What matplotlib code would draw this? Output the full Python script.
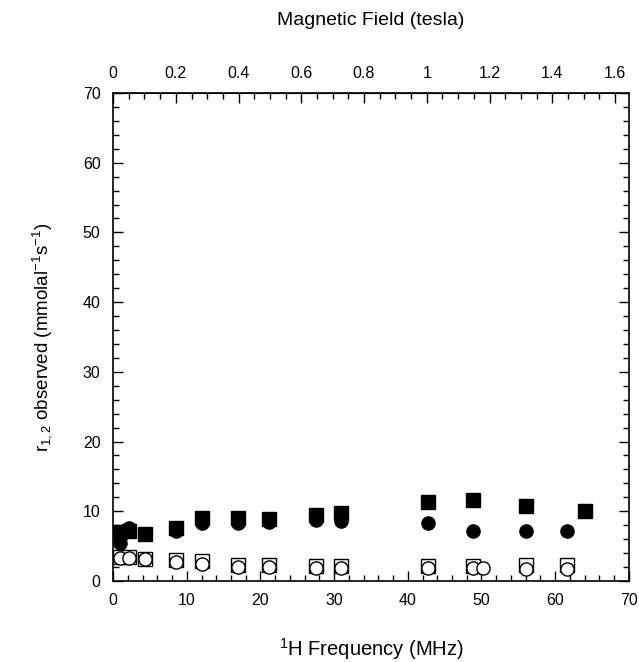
import numpy as np
import matplotlib
matplotlib.use("Agg")
import matplotlib.pyplot as plt
from matplotlib.ticker import MultipleLocator, FixedLocator

plt.rcParams['font.family'] = ['Liberation Sans', 'DejaVu Sans']
plt.rcParams['mathtext.fontset'] = 'custom'
plt.rcParams['mathtext.rm'] = 'Liberation Sans'
plt.rcParams['mathtext.it'] = 'Liberation Sans'

# 1H frequency (MHz) and relaxivities
freq_fs = [1.0, 2.2, 4.3, 8.6, 12.1, 17.0, 21.2, 27.5, 31.0, 42.7, 48.8, 56.1, 64.0]
r_fs = [7.0, 7.1, 6.7, 7.6, 9.1, 9.0, 8.9, 9.4, 9.7, 11.3, 11.6, 10.7, 10.0]

freq_fc = [1.0, 2.2, 8.6, 12.1, 17.0, 21.2, 27.5, 31.0, 42.7, 48.8, 56.1, 61.6]
r_fc = [5.5, 7.6, 7.1, 8.3, 8.3, 8.5, 8.7, 8.6, 8.3, 7.1, 7.1, 7.1]

freq_os = [1.0, 2.2, 4.3, 8.6, 12.1, 17.0, 21.2, 27.5, 31.0, 42.7, 48.8, 56.1, 61.6]
r_os = [3.5, 3.4, 3.2, 3.0, 2.8, 2.3, 2.3, 2.2, 2.2, 2.2, 2.2, 2.3, 2.3]

freq_oc = [1.0, 2.2, 4.3, 8.6, 12.1, 17.0, 21.2, 27.5, 31.0, 42.7, 48.8, 50.2, 56.1, 61.6]
r_oc = [3.3, 3.3, 3.1, 2.7, 2.5, 2.0, 2.0, 1.8, 1.8, 1.8, 1.8, 1.8, 1.7, 1.7]

field_ticks = [0, 0.2, 0.4, 0.6, 0.8, 1.0, 1.2, 1.4, 1.6]
field_labels = ['0', '0.2', '0.4', '0.6', '0.8', '1', '1.2', '1.4', '1.6']

GAMMA = 42.58  # MHz per tesla

fig = plt.figure(figsize=(6.39, 6.62), dpi=100)
ax = fig.add_axes([0.177, 0.1224, 0.807, 0.7371])

ax.plot(freq_oc, r_oc, 'o', ms=9.5, mfc='white', mec='black', mew=1.0, zorder=3)
ax.plot(freq_os, r_os, 's', ms=9.5, mfc='white', mec='black', mew=1.0, zorder=2)
ax.plot(freq_fc, r_fc, 'o', ms=9.5, mfc='black', mec='black', zorder=4)
ax.plot(freq_fs, r_fs, 's', ms=9.5, mfc='black', mec='black', zorder=4)

ax.set_xlim(0, 70)
ax.set_ylim(0, 70)
ax.xaxis.set_major_locator(MultipleLocator(10))
ax.xaxis.set_minor_locator(MultipleLocator(2))
ax.yaxis.set_major_locator(MultipleLocator(10))
ax.yaxis.set_minor_locator(MultipleLocator(2))
ax.tick_params(which='both', direction='in', right=True, top=False,
               labelsize=11.5, width=1)
ax.tick_params(which='major', length=7, pad=9)
ax.tick_params(which='minor', length=4)

for s in ax.spines.values():
    s.set_linewidth(1.2)

sec = ax.secondary_xaxis('top', functions=(lambda f: f / GAMMA, lambda b: b * GAMMA))
sec.set_xticks(field_ticks)
sec.set_xticklabels(field_labels)
sec.xaxis.set_minor_locator(FixedLocator(np.arange(0.05, 1.65, 0.05)))
sec.tick_params(which='both', direction='in', labelsize=11.5, width=1)
sec.tick_params(which='major', length=7, pad=9)
sec.tick_params(which='minor', length=4)
sec.set_xlabel('Magnetic Field (tesla)', fontsize=14, labelpad=29)

ax.set_xlabel(r'$^{1}$H Frequency (MHz)', fontsize=14.5, labelpad=20)
ax.set_ylabel(r'r$_{1,2}$ observed (mmolal$^{-1}$s$^{-1}$)', fontsize=13.5, labelpad=21)

fig.savefig('out.png', dpi=100)
